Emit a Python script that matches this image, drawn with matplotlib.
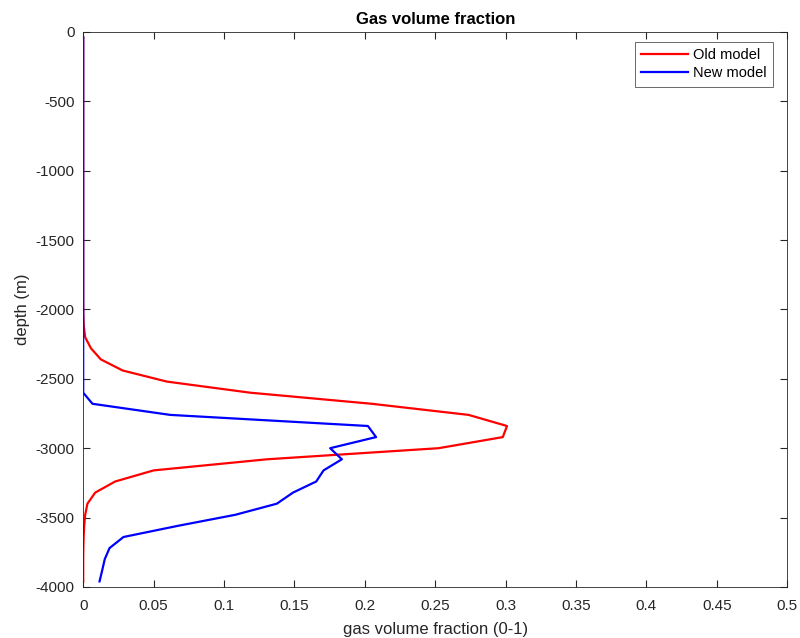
import numpy as np
import matplotlib.pyplot as plt

plt.rcParams['font.family'] = ['Liberation Sans', 'DejaVu Sans']
plt.rcParams['axes.unicode_minus'] = False

# depth grid (m), 80 m spacing
depth = np.arange(-40, -4001, -80)

old_model = [0, 0, 0, 0, 0, 0, 0, 0, 0, 0,
             0, 0, 0, 0, 0, 0, 0, 0, 0, 0,
             0, 0, 0, 0, 0, 0.0001, 0.0004, 0.0014, 0.0055, 0.0125,
             0.028, 0.0594, 0.1186, 0.205, 0.2737, 0.301, 0.298, 0.2524, 0.1305, 0.05,
             0.0227, 0.0085, 0.003, 0.0014, 0.0007, 0.0003, 0.0001, 0, 0, 0]

new_model = [0, 0, 0, 0, 0, 0, 0, 0, 0, 0,
             0, 0, 0, 0, 0, 0, 0, 0, 0, 0,
             0, 0, 0, 0, 0, 0, 0, 0, 0, 0,
             0, 0, 0, 0.0066, 0.0618, 0.2022, 0.208, 0.1754, 0.1837, 0.1707,
             0.1655, 0.149, 0.1375, 0.108, 0.067, 0.0286, 0.0187, 0.0153, 0.0135, 0.0116]

fig = plt.figure(figsize=(8, 6.38), dpi=100)
ax = fig.add_axes([0.104, 0.08, 0.88, 0.87])
ax.plot(old_model, depth, color='red', lw=1.6, label='Old model')
ax.plot(new_model, depth, color='blue', lw=1.6, label='New model')

ax.set_xlim(0, 0.5)
ax.set_ylim(-4000, 0)
ax.set_xticks(np.arange(0, 0.51, 0.05))
ax.set_xticklabels(['0', '0.05', '0.1', '0.15', '0.2', '0.25', '0.3', '0.35', '0.4', '0.45', '0.5'])
ax.set_yticks(np.arange(-4000, 1, 500))
ax.tick_params(direction='in', top=True, right=True, labelsize=11, colors='#262626', length=5)
ax.tick_params(axis='x', pad=9)
ax.tick_params(axis='y', pad=6)
for s in ax.spines.values():
    s.set_color('#262626')
    s.set_linewidth(0.6)

ax.set_title('Gas volume fraction', fontsize=12, fontweight='bold', pad=6)
ax.set_xlabel('gas volume fraction (0-1)', fontsize=12, color='#262626', labelpad=6)
ax.set_ylabel('depth (m)', fontsize=12, color='#262626', labelpad=4)
leg = ax.legend(loc='upper right', bbox_to_anchor=(0.98, 0.982), borderaxespad=0,
                fontsize=10.5, fancybox=False, edgecolor='#262626',
                handlelength=3.2, handletextpad=0.35, labelspacing=0.25,
                borderpad=0.45)
leg.get_frame().set_linewidth(0.6)

fig.savefig('out.png', dpi=100)
